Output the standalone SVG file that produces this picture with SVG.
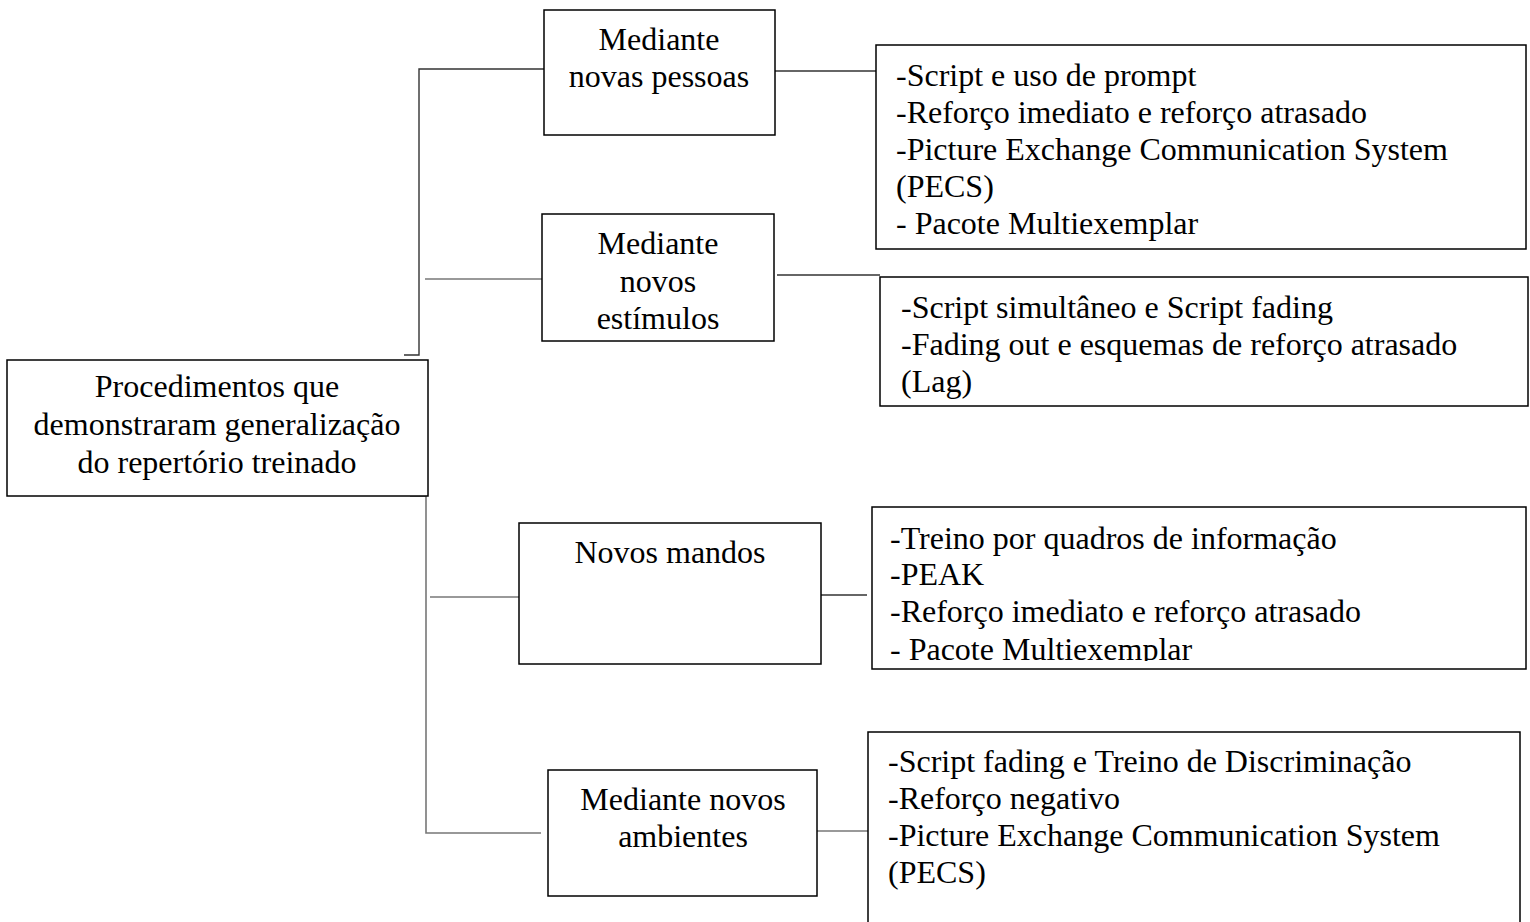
<svg xmlns="http://www.w3.org/2000/svg" width="1530" height="922" viewBox="0 0 1530 922">
<style>
.box{fill:#fff;stroke:#000;stroke-width:1.5}
.ln{fill:none;stroke:#333;stroke-width:1.4}
.lg{fill:none;stroke:#777;stroke-width:1.6}
text{font-family:"Liberation Serif","Times New Roman",serif;font-size:32px;fill:#000}
.c{text-anchor:middle}
</style>
<defs>
<clipPath id="clip5"><rect x="872" y="507" width="654" height="154"/></clipPath>
</defs>
<rect width="1530" height="922" fill="#fff"/>
<g id="connectors">
<polyline class="ln" points="404,355 419,355 419,69 548,69"/>
<line class="lg" x1="425" y1="279" x2="542" y2="279"/>
<line class="ln" x1="775" y1="71" x2="876" y2="71"/>
<line class="ln" x1="777" y1="275" x2="880" y2="275"/>
<polyline class="lg" points="410,496 426,496 426,833 541,833"/>
<line class="lg" x1="430" y1="597" x2="523" y2="597"/>
<line class="ln" x1="821" y1="595" x2="867" y2="595"/>
<line class="lg" x1="817" y1="831" x2="868" y2="831"/>
</g>
<g id="root">
<rect class="box" x="7" y="360" width="421" height="136"/>
<text class="c" x="217" y="397">Procedimentos que</text>
<text class="c" x="217" y="435">demonstraram generalização</text>
<text class="c" x="217" y="473">do repertório treinado</text>
</g>
<g id="n-pessoas">
<rect class="box" x="544" y="10" width="231" height="125"/>
<text class="c" x="659" y="50">Mediante</text>
<text class="c" x="659" y="87">novas pessoas</text>
</g>
<g id="n-estimulos">
<rect class="box" x="542" y="214" width="232" height="127"/>
<text class="c" x="658" y="254">Mediante</text>
<text class="c" x="658" y="292">novos</text>
<text class="c" x="658" y="329">estímulos</text>
</g>
<g id="n-mandos">
<rect class="box" x="519" y="523" width="302" height="141"/>
<text class="c" x="670" y="563">Novos mandos</text>
</g>
<g id="n-ambientes">
<rect class="box" x="548" y="770" width="269" height="126"/>
<text class="c" x="683" y="810">Mediante novos</text>
<text class="c" x="683" y="847">ambientes</text>
</g>
<g id="d-pessoas">
<rect class="box" x="876" y="45" width="650" height="204"/>
<text x="896" y="86">-Script e uso de prompt</text>
<text x="896" y="123">-Reforço imediato e reforço atrasado</text>
<text x="896" y="160">-Picture Exchange Communication System</text>
<text x="896" y="197">(PECS)</text>
<text x="896" y="234">- Pacote Multiexemplar</text>
</g>
<g id="d-estimulos">
<rect class="box" x="880" y="277" width="648" height="129"/>
<text x="901" y="318">-Script simultâneo e Script fading</text>
<text x="901" y="355">-Fading out e esquemas de reforço atrasado</text>
<text x="901" y="392">(Lag)</text>
</g>
<g id="d-mandos">
<rect class="box" x="872" y="507" width="654" height="162"/>
<g clip-path="url(#clip5)">
<text x="890" y="549">-Treino por quadros de informação</text>
<text x="890" y="585">-PEAK</text>
<text x="890" y="622">-Reforço imediato e reforço atrasado</text>
<text x="890" y="660">- Pacote Multiexemplar</text>
</g>
</g>
<g id="d-ambientes">
<rect class="box" x="868" y="732" width="652" height="210"/>
<text x="888" y="772">-Script fading e Treino de Discriminação</text>
<text x="888" y="809">-Reforço negativo</text>
<text x="888" y="846">-Picture Exchange Communication System</text>
<text x="888" y="883">(PECS)</text>
</g>
</svg>
